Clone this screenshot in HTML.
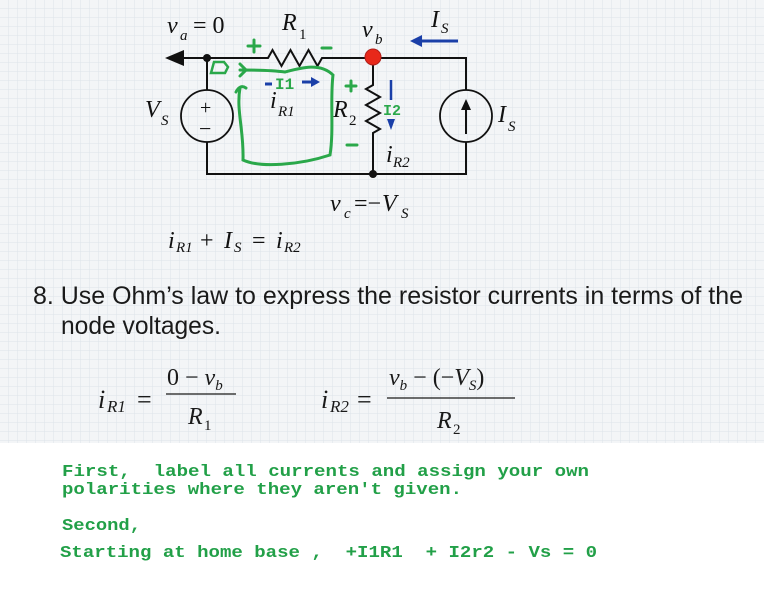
<!DOCTYPE html>
<html><head><meta charset="utf-8"><style>
html,body{margin:0;padding:0;background:#fff}
svg{display:block}
text{white-space:pre}
</style></head><body>
<svg width="764" height="600" viewBox="0 0 764 600" xmlns="http://www.w3.org/2000/svg">
<defs>
<pattern id="g" width="9" height="9" patternUnits="userSpaceOnUse">
<rect width="9" height="9" fill="#f3f5f7"/>
<path d="M9 0V9M0 9H9" stroke="#dde3ea" stroke-width="1"/>
</pattern>
</defs>
<rect x="0" y="0" width="764" height="443" fill="url(#g)"/>
<rect x="0" y="443" width="764" height="157" fill="#fff"/>
<g stroke="#111" stroke-width="2" fill="none">
<path d="M180 58H268 l4.5 -8 l9 16 l9 -16 l9 16 l9 -16 l9 16 l4.5 -8 H466 V90 M466 142 V174 H207 V142 M207 90 V58"/>
<path d="M373 58 V85 l-7 4 l14 8 l-14 8 l14 8 l-14 8 l14 8 l-7 4 V174"/>
<circle cx="207" cy="116" r="26" stroke-width="1.8"/>
<circle cx="466" cy="116" r="26" stroke-width="1.8"/>
<path d="M466 134V104" stroke-width="2"/>
</g>
<polygon points="165,58 184,50 184,66" fill="#111"/>
<polygon points="466,99 461,110 471,110" fill="#111"/>
<circle cx="207" cy="58" r="4" fill="#111"/>
<circle cx="373" cy="174" r="4" fill="#111"/>
<circle cx="373" cy="57" r="8" fill="#e8281a" stroke="#b0201a" stroke-width="1"/>
<g font-family="Liberation Serif, serif" fill="#111">
<text x="200" y="114" font-size="20">+</text>
<text x="199" y="136" font-size="22">−</text>
<text x="167" y="33" font-size="24" font-style="italic">v</text><text x="180" y="40" font-size="15" font-style="italic">a</text><text x="193" y="33" font-size="24">= 0</text>
<text x="282" y="30" font-size="24" font-style="italic">R</text><text x="299" y="39" font-size="15">1</text>
<text x="362" y="37" font-size="24" font-style="italic">v</text><text x="375" y="44" font-size="15" font-style="italic">b</text>
<text x="431" y="27" font-size="24" font-style="italic">I</text><text x="441" y="33" font-size="15" font-style="italic">S</text>
<text x="145" y="117" font-size="24" font-style="italic">V</text><text x="161" y="125" font-size="15" font-style="italic">S</text>
<text x="498" y="122" font-size="24" font-style="italic">I</text><text x="508" y="131" font-size="15" font-style="italic">S</text>
<text x="270" y="108" font-size="24" font-style="italic">i</text><text x="278" y="116" font-size="15" font-style="italic">R1</text>
<text x="333" y="117" font-size="24" font-style="italic">R</text><text x="349" y="125" font-size="15">2</text>
<text x="386" y="162" font-size="24" font-style="italic">i</text><text x="393" y="167" font-size="15" font-style="italic">R2</text>
<text x="330" y="211" font-size="24" font-style="italic">v</text><text x="344" y="218" font-size="15" font-style="italic">c</text><text x="354" y="211" font-size="24">=−</text><text x="382" y="211" font-size="24" font-style="italic">V</text><text x="401" y="218" font-size="15" font-style="italic">S</text>
<text x="168" y="248" font-size="24" font-style="italic">i</text><text x="176" y="252" font-size="15" font-style="italic">R1</text><text x="200" y="248" font-size="24">+</text><text x="224" y="248" font-size="24" font-style="italic">I</text><text x="234" y="252" font-size="15" font-style="italic">S</text><text x="252" y="248" font-size="24">=</text><text x="276" y="248" font-size="24" font-style="italic">i</text><text x="284" y="252" font-size="15" font-style="italic">R2</text>
</g>
<path d="M458 41H418" stroke="#1a3fa8" stroke-width="3"/><polygon points="410,41 422,35 422,47" fill="#1a3fa8"/>
<path d="M391 80V100" stroke="#1a3fa8" stroke-width="2.5"/>
<polygon points="391,130 387,119 395,119" fill="#1a3fa8"/>
<path d="M265 84H272M302 82H312" stroke="#1a3fa8" stroke-width="3"/><polygon points="320,82 311,77 311,87" fill="#1a3fa8"/>
<g fill="#2aa84a" font-family="Liberation Mono, monospace" font-weight="bold">
<text x="275" y="89" font-size="16">I1</text>
<text x="383" y="115" font-size="15">I2</text>
</g>
<g stroke="#2aa84a" stroke-width="3" fill="none" stroke-linecap="round">
<path d="M248 46h12M254 40v12"/>
<path d="M322 48h9"/>
<path d="M346 86h10M351 81v10"/>
<path d="M347 145h10"/>
<path d="M240 88 C236 110 244 130 243 160 C260 168 300 165 330 155 C334 130 330 100 333 75 C320 62 300 68 285 72 C270 70 255 70 240 70"/>
<path d="M240 64l6 6l-6 6"/>
<path d="M211 73h14l3-6l-4-5h-10z" stroke-width="2.5"/>
<path d="M236 92 q4-8 10-4"/>
</g>
<g font-family="Liberation Sans Narrow, Liberation Sans, sans-serif" fill="#1a1a1a">
<text x="33" y="304" font-size="25" textLength="710" lengthAdjust="spacingAndGlyphs">8. Use Ohm’s law to express the resistor currents in terms of the</text>
<text x="61" y="334" font-size="25" textLength="160" lengthAdjust="spacingAndGlyphs">node voltages.</text>
</g>
<g font-family="Liberation Serif, serif" fill="#1a1a1a">
<text x="98" y="408" font-size="26" font-style="italic">i</text><text x="107" y="412" font-size="17" font-style="italic">R1</text><text x="137" y="408" font-size="26">=</text>
<text x="167" y="385" font-size="24">0 − <tspan font-style="italic">v</tspan><tspan font-size="15" dy="5" font-style="italic">b</tspan></text>
<path d="M166 394H236" stroke="#1a1a1a" stroke-width="1.3"/>
<text x="188" y="424" font-size="24" font-style="italic">R</text><text x="204" y="430" font-size="15">1</text>
<text x="321" y="408" font-size="26" font-style="italic">i</text><text x="330" y="412" font-size="17" font-style="italic">R2</text><text x="357" y="408" font-size="26">=</text>
<text x="389" y="385" font-size="24"><tspan font-style="italic">v</tspan><tspan font-size="15" dy="5" font-style="italic">b</tspan><tspan dy="-5"> − (−</tspan><tspan font-style="italic">V</tspan><tspan font-size="15" dy="5" font-style="italic">S</tspan><tspan dy="-5">)</tspan></text>
<path d="M387 398H515" stroke="#1a1a1a" stroke-width="1.3"/>
<text x="437" y="428" font-size="24" font-style="italic">R</text><text x="453" y="434" font-size="15">2</text>
</g>
<g font-family="Liberation Mono, monospace" font-weight="bold" fill="#22a048" font-size="17">
<text x="62" y="476" textLength="527" lengthAdjust="spacingAndGlyphs">First,  label all currents and assign your own</text>
<text x="62" y="494" textLength="400" lengthAdjust="spacingAndGlyphs">polarities where they aren't given.</text>
<text x="62" y="530" textLength="79" lengthAdjust="spacingAndGlyphs">Second,</text>
<text x="60" y="557" textLength="537" lengthAdjust="spacingAndGlyphs">Starting at home base ,  +I1R1  + I2r2 - Vs = 0</text>
</g>
</svg>
</body></html>
